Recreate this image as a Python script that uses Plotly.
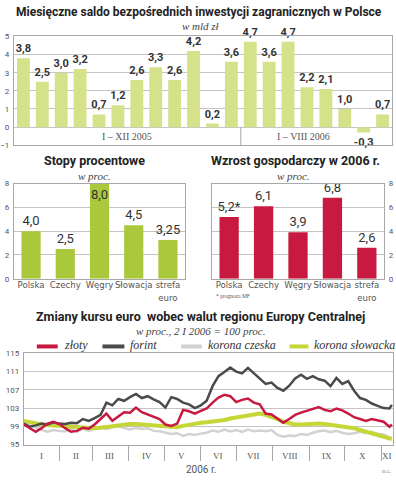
import plotly.graph_objects as go
from datetime import date

# ---------------- data ----------------
fdi_values = [3.8, 2.5, 3.0, 3.2, 0.7, 1.2, 2.6, 3.3, 2.6, 4.2, 0.2, 3.6,
              4.7, 3.6, 4.7, 2.2, 2.1, 1.0, -0.3, 0.7]
fdi_period_labels = ["I – XII 2005", "I – VIII 2006"]

countries = ["Polska", "Czechy", "Węgry", "Słowacja", "strefa<br>euro"]
rates = [4.0, 2.5, 8.0, 4.5, 3.25]
growth = [5.2, 6.1, 3.9, 6.8, 2.6]
growth_notes = ["*", "", "", "", ""]

fx_dates = ["2006-01-02", "2006-01-07", "2006-01-12", "2006-01-17", "2006-01-22", "2006-01-27",
            "2006-02-01", "2006-02-06", "2006-02-11", "2006-02-16", "2006-02-21", "2006-02-26",
            "2006-03-03", "2006-03-08", "2006-03-13", "2006-03-18", "2006-03-23", "2006-03-28",
            "2006-04-02", "2006-04-07", "2006-04-12", "2006-04-17", "2006-04-22", "2006-04-27",
            "2006-05-02", "2006-05-07", "2006-05-12", "2006-05-17", "2006-05-22", "2006-05-27",
            "2006-06-01", "2006-06-06", "2006-06-11", "2006-06-16", "2006-06-21", "2006-06-26",
            "2006-07-01", "2006-07-06", "2006-07-11", "2006-07-16", "2006-07-21", "2006-07-26",
            "2006-07-31", "2006-08-05", "2006-08-10", "2006-08-15", "2006-08-20", "2006-08-25",
            "2006-08-30", "2006-09-04", "2006-09-09", "2006-09-14", "2006-09-19", "2006-09-24",
            "2006-09-29", "2006-10-04", "2006-10-09", "2006-10-14", "2006-10-19", "2006-10-24",
            "2006-10-29", "2006-11-03", "2006-11-08", "2006-11-10"]

zloty = [99.4, 98.6, 97.8, 98.6, 99.6, 100.0,
         99.5, 98.6, 97.8, 98.0, 98.7, 98.5,
         99.4, 100.6, 101.8, 100.2, 101.2, 102.1,
         102.0, 103.1, 102.1, 101.6, 101.0, 100.6,
         99.4, 99.1, 99.6, 102.6, 102.3, 101.8,
         102.4, 102.9, 104.2, 105.3, 105.9, 105.6,
         104.3, 104.8, 105.1, 104.2, 103.8, 101.8,
         101.6, 100.6, 99.8, 100.6, 101.5, 102.0,
         102.4, 102.8, 103.2, 102.6, 102.3, 102.9,
         102.5, 101.8, 101.0, 100.6, 100.2, 100.6,
         100.3, 100.0, 98.9, 99.4]

forint = [99.6, 98.9, 99.2, 99.6, 99.4, 99.9,
          99.6, 99.5, 99.8, 99.7, 100.6, 100.2,
          100.8, 101.5, 104.2, 103.6, 105.0, 104.6,
          105.4, 106.1, 105.2, 105.6, 104.9, 104.3,
          103.1, 105.4, 105.0, 104.2, 103.8, 103.0,
          103.6, 104.6, 107.8, 110.0, 110.9, 111.9,
          111.0, 110.6, 111.8, 110.6, 109.4, 108.3,
          108.6, 107.4, 106.8, 107.9, 109.5, 110.3,
          109.4, 110.0, 109.3, 109.0, 107.8, 109.6,
          108.3, 108.9, 106.8, 105.2, 104.8, 104.0,
          103.5, 103.0, 102.9, 103.7]

korona_czeska = [99.8, 99.2, 98.8, 98.2, 97.8, 98.2,
                 98.0, 97.9, 98.4, 97.8, 98.5, 98.0,
                 98.6, 98.9, 98.4, 98.8, 99.0, 98.6,
                 98.3, 98.7, 98.4, 98.6, 98.0, 97.9,
                 97.6, 97.3, 97.5, 96.9, 97.3, 97.1,
                 97.4, 97.6, 98.1, 97.8, 98.3, 97.9,
                 98.2, 97.8, 98.3, 97.9, 98.1, 97.9,
                 98.2, 97.1, 96.7, 97.0, 96.9, 97.3,
                 97.1, 97.6, 97.9, 98.1, 97.7, 98.0,
                 97.6, 97.3, 97.5, 97.8, 97.5, 97.8,
                 97.4, 97.2, 96.6, 96.4]

korona_slowacka = [100.2, 99.9, 99.7, 99.4, 99.3, 99.2,
                   99.1, 99.0, 98.9, 98.9, 98.8, 98.7,
                   98.6, 98.7, 98.9, 99.1, 99.3, 99.4,
                   99.5, 99.5, 99.4, 99.3, 99.1, 98.9,
                   98.8, 98.7, 98.8, 99.1, 99.4, 99.6,
                   99.8, 99.9, 100.0, 100.2, 100.4, 100.7,
                   100.9, 101.1, 101.3, 101.6, 101.8, 101.5,
                   101.1, 100.6, 100.0, 99.6, 99.4, 99.4,
                   99.5, 99.6, 99.6, 99.5, 99.3, 99.2,
                   99.1, 98.9, 98.6, 98.2, 97.8, 97.4,
                   97.1, 96.8, 96.4, 96.2]

fx_range = ["2006-01-02", "2006-11-11"]
month_starts = ["2006-01-01", "2006-02-01", "2006-03-01", "2006-04-01", "2006-05-01", "2006-06-01",
                "2006-07-01", "2006-08-01", "2006-09-01", "2006-10-01", "2006-11-01"]
month_labels = ["I", "II", "III", "IV", "V", "VI", "VII", "VIII", "IX", "X", "XI"]
fx_yticks = [95, 99, 103, 107, 111, 115]

# ---------------- styling ----------------
W, H = 396, 480
SANS = "Roboto, 'Liberation Sans', sans-serif"
NARROW = "'Liberation Sans Narrow', 'DejaVu Sans Condensed', Roboto, sans-serif"
SERIF = "'Liberation Serif', 'DejaVu Serif', serif"
GRID = "#c4c4c4"
FRAME = "#a8a8a8"
TXT = "#333333"
TICK = "#555555"


def fmt(v):
    s = f"{v:.1f}" if abs(round(v, 1) - v) < 1e-9 else f"{v:.2f}"
    return s.replace(".", ",")


def px_x(p):
    return p / W


def px_y(p):
    return 1 - p / H


fig = go.Figure()

# ---- top: FDI bars ----
fdi_x = list(range(len(fdi_values)))
fig.add_trace(go.Bar(
    x=fdi_x, y=fdi_values, xaxis="x", yaxis="y",
    marker=dict(color="#d5e28a", line=dict(width=0)),
    width=0.68,
    text=[fmt(v) for v in fdi_values], textposition="outside", textangle=0,
    textfont=dict(family=SANS, size=11, color=TXT, weight="bold"),
    constraintext="none", cliponaxis=False, showlegend=False, hoverinfo="skip"))

# ---- middle left: interest rates ----
fig.add_trace(go.Bar(
    x=countries, y=rates, xaxis="x2", yaxis="y2",
    marker=dict(color="#a9c83c", line=dict(width=0)),
    width=0.56,
    text=[fmt(v) for v in rates],
    textposition=["inside" if v >= 8 else "outside" for v in rates],
    insidetextanchor="end", textangle=0,
    textfont=dict(family=SANS, size=13, color=TXT),
    insidetextfont=dict(family=SANS, size=13, color=TXT),
    outsidetextfont=dict(family=SANS, size=13, color=TXT),
    constraintext="none", cliponaxis=False, showlegend=False, hoverinfo="skip"))

# ---- middle right: growth ----
fig.add_trace(go.Bar(
    x=countries, y=growth, xaxis="x3", yaxis="y3",
    marker=dict(color="#c81a40", line=dict(width=0)),
    width=0.56,
    text=[fmt(v) + n for v, n in zip(growth, growth_notes)], textposition="outside",
    textangle=0,
    textfont=dict(family=SANS, size=13, color=TXT),
    constraintext="none", cliponaxis=False, showlegend=False, hoverinfo="skip"))

# ---- bottom: exchange rates ----
line_specs = [
    ("korona czeska", korona_czeska, "#d2d2d2", 2.5),
    ("korona słowacka", korona_slowacka, "#c6d636", 4),
    ("forint", forint, "#4b4b4b", 2.5),
    ("złoty", zloty, "#c81a40", 2.5),
]
for name, vals, col, wdt in line_specs:
    fig.add_trace(go.Scatter(
        x=fx_dates, y=vals, xaxis="x4", yaxis="y4", mode="lines", name=name,
        line=dict(color=col, width=wdt), showlegend=False, hoverinfo="skip"))

# ---------------- axes ----------------
frame = dict(showline=True, linecolor=FRAME, linewidth=1, mirror=True)
cat_font = dict(family=NARROW, size=9.5, color=TICK)
num_font = dict(family=SANS, size=8, color=TICK)

fig.update_layout(
    width=W, height=H, margin=dict(l=0, r=0, t=0, b=0),
    paper_bgcolor="white", plot_bgcolor="white",
    xaxis=dict(domain=[px_x(12), px_x(392)], range=[-0.5, len(fdi_values) - 0.5], anchor="y",
               showticklabels=False, showgrid=False, zeroline=False, **frame),
    yaxis=dict(domain=[px_y(144), px_y(33)], range=[-1, 5], tickvals=[-1, 0, 1, 2, 3, 4, 5],
               anchor="x", showgrid=True, gridcolor=GRID, zeroline=False, ticks="",
               tickfont=num_font, ticklabelstandoff=2, **frame),
    xaxis2=dict(domain=[px_x(12), px_x(184)], anchor="y2", showgrid=False, zeroline=False,
                ticks="", tickangle=0, tickfont=cat_font, ticklabelstandoff=-3, **frame),
    yaxis2=dict(domain=[px_y(280), px_y(183)], anchor="x2", range=[0, 8], dtick=2,
                showgrid=True, gridcolor=GRID, zeroline=False, ticks="",
                tickfont=num_font, ticklabelstandoff=2, **frame),
    xaxis3=dict(domain=[px_x(211), px_x(384)], anchor="y3", showgrid=False, zeroline=False,
                ticks="", tickangle=0, tickfont=cat_font, ticklabelstandoff=-3, **frame),
    yaxis3=dict(domain=[px_y(280), px_y(183)], anchor="x3", range=[0, 8], dtick=2,
                showgrid=True, gridcolor=GRID, zeroline=False, ticks="", side="right",
                tickfont=num_font, ticklabelstandoff=2, **frame),
    xaxis4=dict(domain=[px_x(22), px_x(393)], anchor="y4", type="date", range=fx_range,
                tickmode="array", tickvals=[], showgrid=False, zeroline=False, ticks="",
                minor=dict(tickmode="array", tickvals=month_starts[1:], ticks="outside",
                           ticklen=15, tickcolor=FRAME, showgrid=False),
                **frame),
    yaxis4=dict(domain=[px_y(449), px_y(356)], anchor="x4", range=[95, 115], tickvals=fx_yticks,
                showgrid=True, gridcolor=GRID, zeroline=False, ticks="",
                tickfont=num_font, ticklabelstandoff=2, **frame),
    showlegend=False,
)

# ---------------- annotations ----------------
ann = []


def text(x, y, s, size, family=SANS, color=TXT, bold=False, italic=False, anchor="center"):
    ann.append(dict(x=px_x(x), y=px_y(y), xref="paper", yref="paper", text=s, showarrow=False,
                    xanchor=anchor, yanchor="middle",
                    font=dict(family=family, size=size, color=color,
                              weight="bold" if bold else "normal",
                              style="italic" if italic else "normal")))


text(198, 8, "Miesięczne saldo bezpośrednich inwestycji zagranicznych w Polsce", 12, bold=True, color="#222")
text(200, 22, "w mld zł", 11, family=SERIF, color="#444", italic=True)
text(93, 160, "Stopy procentowe", 12.5, bold=True, color="#222")
text(93, 175, "w proc.", 11, family=SERIF, color="#444", italic=True)
text(295, 160, "Wzrost gospodarczy w 2006 r.", 12.5, bold=True, color="#222")
text(293, 175, "w proc.", 11, family=SERIF, color="#444", italic=True)
text(213, 298, "* prognoza MF", 5.5, family=SERIF, color="#555", anchor="left")
text(200, 318, "Zmiany kursu euro  wobec walut regionu Europy Centralnej", 12.5, bold=True, color="#222")
text(200, 333, "w proc., 2 I 2006 = 100 proc.", 11, family=SERIF, color="#444", italic=True)
text(200, 474, "2006 r.", 10, family=SANS, color=TICK)
text(386, 476, "B.G.", 5, family=SERIF, color="#777")

# manual legend (order as in reference)
legend_items = [("złoty", "#c81a40", 35, 56, 4), ("forint", "#4b4b4b", 101, 123, 4),
                ("korona czeska", "#d2d2d2", 180, 201, 4), ("korona słowacka", "#c6d636", 289, 308, 4)]
for name, col, x0, x1, lw in legend_items:
    fig.add_shape(type="line", xref="paper", yref="paper", x0=px_x(x0), x1=px_x(x1),
                  y0=px_y(349), y1=px_y(349), line=dict(color=col, width=lw))
    text(x1 + 4, 348, name, 12, family=SERIF, color=TXT, italic=True, anchor="left")

# period labels under top chart
split = 11.5
ann.append(dict(x=(split - 0.5) / 2, y=-0.5, xref="x", yref="y", text=fdi_period_labels[0],
                showarrow=False, font=dict(family=SERIF, size=10, color=TICK)))
ann.append(dict(x=14.8, y=-0.5, xref="x", yref="y", text=fdi_period_labels[1],
                showarrow=False, font=dict(family=SERIF, size=10, color=TICK)))

# month labels
d_starts = [date.fromisoformat(s) for s in month_starts]
d_end = date.fromisoformat(fx_range[1])
for i, lab in enumerate(month_labels):
    a = max(d_starts[i], date.fromisoformat(fx_range[0]))
    b = d_starts[i + 1] if i + 1 < len(d_starts) else d_end
    mid = a + (b - a) / 2
    ann.append(dict(x=mid.isoformat(), y=px_y(461), xref="x4", yref="paper", text=lab,
                    showarrow=False, yanchor="middle",
                    font=dict(family=SERIF, size=9, color=TICK)))

fig.update_layout(annotations=ann)

fig.add_shape(type="line", xref="x", yref="y", x0=split, x1=split, y0=-1, y1=0,
              line=dict(color=FRAME, width=1))

fig.write_html("out.html", config={"displayModeBar": False},
               post_script="document.body.style.margin='0';document.body.style.overflow='hidden';")
